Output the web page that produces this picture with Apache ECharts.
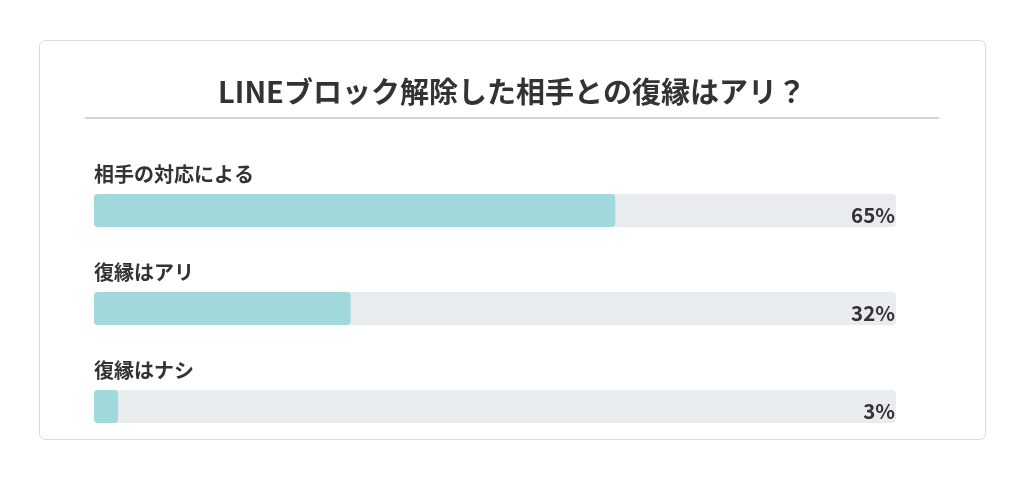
<!DOCTYPE html>
<html><head><meta charset="utf-8">
<script src="https://cdn.jsdelivr.net/npm/echarts@6/dist/echarts.min.js"></script>
<style>html,body{margin:0;padding:0;background:#fff}#c{width:1024px;height:478px}</style>
</head><body><div id="c"></div>
<script>
const titleText = 'LINEブロック解除した相手との復縁はアリ？';
const categories = ['相手の対応による', '復縁はアリ', '復縁はナシ'];
const values = [65, 32, 3];
const valueLabels = ['65%', '32%', '3%'];

const font = '"Noto Sans CJK JP", "Noto Sans", sans-serif';
const chart = echarts.init(document.getElementById('c'));
chart.setOption({
  backgroundColor: '#ffffff',
  textStyle: { fontFamily: font },
  title: {
    text: titleText, left: 'center', top: 72,
    textStyle: { fontFamily: font, fontSize: 29, fontWeight: 'bold', color: '#333' }
  },
  graphic: [
    { type: 'rect', z: -1, shape: { x: 39.5, y: 40.5, width: 946, height: 399, r: 6 },
      style: { fill: '#fff', stroke: '#dadada', lineWidth: 1 } },
    { type: 'line', shape: { x1: 85, y1: 118, x2: 939, y2: 118 },
      style: { stroke: '#c8c8c8', lineWidth: 1.5 } }
  ],
  grid: { left: 94, right: 128, top: 161.5, bottom: 22.5 },
  xAxis: { type: 'value', min: 0, max: 100, show: false },
  yAxis: [
    { type: 'category', data: categories, inverse: true, show: false },
    { type: 'category', data: valueLabels, inverse: true, position: 'right', z: 20,
      axisLine: { show: false }, axisTick: { show: false }, splitLine: { show: false },
      axisLabel: { inside: true, margin: 1, fontSize: 20.5, fontWeight: 'bold', color: '#333',
        fontFamily: font, verticalAlign: 'top', lineHeight: 9 } }
  ],
  series: [{
    type: 'bar', data: values, barWidth: 33, yAxisIndex: 0,
    itemStyle: { color: '#a0d8dc', borderRadius: 4 },
    showBackground: true,
    backgroundStyle: { color: '#e8ecee', borderRadius: 4 },
    label: { show: true, position: [0, -30], formatter: '{b}', fontSize: 20,
      fontWeight: 'bold', color: '#333', fontFamily: font },
    silent: true, animation: false
  }],
  animation: false
});
</script></body></html>
